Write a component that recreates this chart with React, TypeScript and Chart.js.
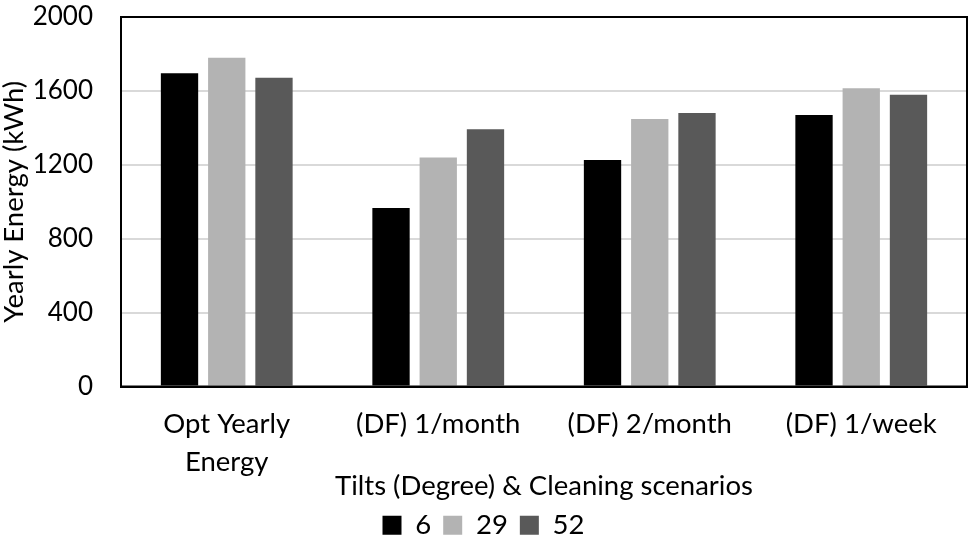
import { useEffect, useRef } from "react"
import { Chart, registerables } from "chart.js"

Chart.register(...registerables)

const categories = [["Opt Yearly", "Energy"], "(DF) 1/month", "(DF) 2/month", "(DF) 1/week"]
const tilt6 = [1695, 966, 1226, 1470]
const tilt29 = [1780, 1239, 1448, 1615]
const tilt52 = [1671, 1393, 1481, 1579]
const seriesLabels = ["6", "29", "52"]
const seriesColors = ["#000000", "#b3b3b3", "#595959"]

const FONT = "Lato, 'Noto Sans', sans-serif"
const SIZE = 27.5

// frame around the plot area
const frame = {
  id: "frame",
  afterDraw(chart: Chart) {
    const { ctx, chartArea } = chart
    ctx.save()
    ctx.strokeStyle = "#000"
    ctx.lineWidth = 2
    ctx.strokeRect(chartArea.left, chartArea.top, chartArea.right - chartArea.left, chartArea.bottom - chartArea.top)
    ctx.restore()
  },
}

export default function App() {
  const chartRef = useRef<HTMLCanvasElement>(null)
  const chartInstance = useRef<Chart | null>(null)

  useEffect(() => {
    document.body.style.margin = "0"
    if (!chartRef.current) return
    if (chartInstance.current) chartInstance.current.destroy()
    const ctx = chartRef.current.getContext("2d")
    if (!ctx) return

    chartInstance.current = new Chart(ctx, {
      type: "bar",
      data: {
        labels: categories,
        datasets: [tilt6, tilt29, tilt52].map((d, i) => ({
          label: seriesLabels[i],
          data: d,
          backgroundColor: seriesColors[i],
          borderWidth: 0,
          categoryPercentage: 0.67,
          barPercentage: 0.79,
        })),
      },
      options: {
        responsive: true,
        maintainAspectRatio: false,
        animation: false,
        layout: { padding: { top: 17, right: 2, left: 0, bottom: 0 } },
        plugins: {
          legend: {
            position: "bottom",
            labels: {
              color: "#000",
              font: { family: FONT, size: SIZE },
              boxWidth: 19,
              boxHeight: 19,
              padding: 12,
            },
          },
          tooltip: { enabled: false },
        },
        scales: {
          x: {
            grid: { display: false },
            border: { color: "#000", width: 2 },
            ticks: {
              color: "#000",
              font: { family: FONT, size: SIZE, lineHeight: 1.38 },
              padding: 11,
              maxRotation: 0,
            },
            title: {
              display: true,
              text: "Tilts (Degree) & Cleaning scenarios",
              color: "#000",
              font: { family: FONT, size: SIZE, lineHeight: 0.9 },
              padding: { top: 0, bottom: 1 },
            },
            afterFit(scale) {
              scale.height = 113
            },
          },
          y: {
            min: 0,
            max: 2000,
            ticks: {
              stepSize: 400,
              color: "#000",
              font: { family: FONT, size: 26 },
              padding: 28,
              callback: (v) => String(v),
            },
            grid: { color: "#d9d9d9", lineWidth: 2, drawTicks: false },
            border: { color: "#000", width: 2 },
            title: {
              display: true,
              text: "Yearly Energy (kWh)",
              color: "#000",
              font: { family: FONT, size: SIZE, lineHeight: 1 },
              padding: 0,
            },
            afterFit(scale) {
              scale.width = 121
              scale.paddingTop = 0
            },
          },
        },
      },
      plugins: [frame],
    })

    return () => {
      if (chartInstance.current) chartInstance.current.destroy()
    }
  }, [])

  return (
    <div style={{ width: 969, height: 549 }}>
      <canvas ref={chartRef} />
    </div>
  )
}
